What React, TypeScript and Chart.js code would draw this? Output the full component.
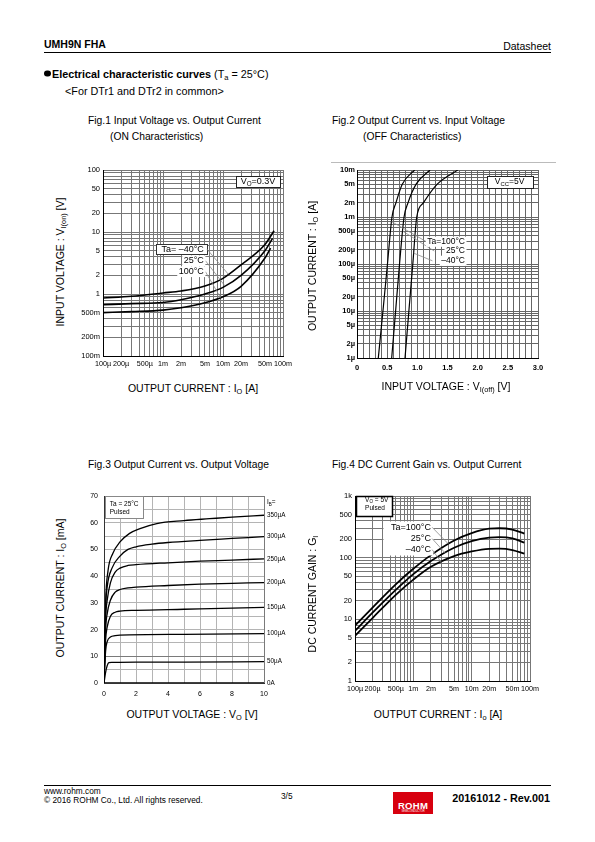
import React, { useEffect, useRef } from 'react';
import { Chart, registerables } from 'chart.js';

Chart.register(...registerables);

const FONT = '"Liberation Sans", Arial, Helvetica, sans-serif';

// ---------------- Fig.1 data (ON characteristics) ----------------
const fig1Io_m40 = [1e-4, 3e-4, 1e-3, 2e-3, 5e-3, 1e-2, 2e-2, 5e-2, 7.1e-2];
const fig1Vi_m40 = [0.86, 0.92, 1.04, 1.12, 1.35, 1.79, 2.95, 6.3, 10.5];
const fig1Io_25 = [1e-4, 3e-4, 1e-3, 2e-3, 5e-3, 1e-2, 2e-2, 5e-2, 6.7e-2];
const fig1Vi_25 = [0.67, 0.7, 0.73, 0.81, 1.0, 1.28, 2.0, 5.0, 7.9];
const fig1Io_100 = [1e-4, 3e-4, 1e-3, 2e-3, 5e-3, 1e-2, 2e-2, 5e-2, 6.2e-2];
const fig1Vi_100 = [0.5, 0.52, 0.55, 0.6, 0.72, 0.9, 1.33, 3.8, 5.5];
const fig1XTicks = [1e-4, 2e-4, 5e-4, 1e-3, 2e-3, 5e-3, 1e-2, 2e-2, 5e-2, 1e-1];
const fig1XLabels = ['100µ', '200µ', '500µ', '1m', '2m', '5m', '10m', '20m', '50m', '100m'];
const fig1YTicks = [0.1, 0.2, 0.5, 1, 2, 5, 10, 20, 50, 100];
const fig1YLabels = ['100m', '200m', '500m', '1', '2', '5', '10', '20', '50', '100'];

// ---------------- Fig.2 data (OFF characteristics) ----------------
const fig2Io = [1e-6, 1e-5, 1e-4, 1e-3, 2e-3, 5e-3, 1e-2];
const fig2Vi_100 = [0.353, 0.43, 0.505, 0.58, 0.645, 0.75, 0.955];
const fig2Vi_25 = [0.575, 0.64, 0.705, 0.78, 0.845, 0.98, 1.21];
const fig2Vi_m40 = [0.796, 0.86, 0.925, 0.99, 1.1, 1.33, 1.67];
const fig2XTicks = [0, 0.5, 1, 1.5, 2, 2.5, 3];
const fig2XLabels = ['0', '0.5', '1.0', '1.5', '2.0', '2.5', '3.0'];
const fig2YTicks = [1e-6, 2e-6, 5e-6, 1e-5, 2e-5, 5e-5, 1e-4, 2e-4, 5e-4, 1e-3, 2e-3, 5e-3, 1e-2];
const fig2YLabels = ['1µ', '2µ', '5µ', '10µ', '20µ', '50µ', '100µ', '200µ', '500µ', '1m', '2m', '5m', '10m'];

// ---------------- Fig.3 data (Io vs Vo) ----------------
const fig3Vo_350 = [0, 0.1, 0.25, 0.55, 1, 1.6, 2.25, 3.3, 5, 6.6, 8, 10];
const fig3Io_350 = [0, 30, 42, 48.5, 52.8, 56, 57.8, 59.7, 60.8, 61.5, 62.1, 62.8];
const fig3Vo_300 = [0, 0.1, 0.2, 0.5, 1, 1.5, 2, 3, 4, 6, 8, 10];
const fig3Io_300 = [0, 28, 36, 43, 47.5, 50, 51, 52, 52.6, 53.4, 54.1, 54.8];
const fig3Vo_250 = [0, 0.1, 0.2, 0.4, 0.7, 1, 1.5, 2, 4, 6, 8, 10];
const fig3Io_250 = [0, 24, 31, 37.5, 41.5, 43, 44, 44.3, 45, 45.6, 46, 46.5];
const fig3Vo_200 = [0, 0.1, 0.2, 0.4, 0.7, 1, 1.5, 2, 4, 6, 8, 10];
const fig3Io_200 = [0, 20, 26, 31, 34, 35, 35.6, 35.9, 36.5, 37, 37.3, 37.6];
const fig3Vo_150 = [0, 0.1, 0.2, 0.4, 0.7, 1, 2, 5, 8, 10];
const fig3Io_150 = [0, 16, 21, 25, 26.5, 26.9, 27.2, 27.6, 28, 28.3];
const fig3Vo_100 = [0, 0.1, 0.2, 0.4, 0.7, 1, 5, 10];
const fig3Io_100 = [0, 12, 15.5, 17.2, 17.7, 17.9, 18.2, 18.5];
const fig3Vo_50 = [0, 0.1, 0.2, 0.3, 0.5, 2, 5, 10];
const fig3Io_50 = [0, 4, 6.5, 7.6, 7.7, 7.8, 7.8, 8];
const fig3Vo_0 = [0, 10];
const fig3Io_0 = [0, 0];
const fig3CurveLabels = ['350µA', '300µA', '250µA', '200µA', '150µA', '100µA', '50µA', '0A'];
const fig3XTicks = [0, 2, 4, 6, 8, 10];
const fig3XLabels = ['0', '2', '4', '6', '8', '10'];
const fig3YTicks = [0, 10, 20, 30, 40, 50, 60, 70];
const fig3YLabels = ['0', '10', '20', '30', '40', '50', '60', '70'];

// ---------------- Fig.4 data (DC current gain) ----------------
const fig4Io = [1e-4, 2e-4, 5e-4, 1e-3, 2e-3, 5e-3, 1e-2, 2e-2, 3e-2, 5e-2, 8e-2];
const fig4G_100 = [7.9, 15.5, 37, 66, 110, 190, 250, 295, 300, 285, 245];
const fig4G_25 = [6.5, 12.8, 30, 54, 88, 145, 185, 212, 215, 205, 175];
const fig4G_m40 = [5.4, 10.5, 25, 44, 71, 106, 126, 139, 140, 133, 116];
const fig4XTicks = fig1XTicks;
const fig4XLabels = fig1XLabels;
const fig4YTicks = [1, 2, 5, 10, 20, 50, 100, 200, 500, 1000];
const fig4YLabels = ['1', '2', '5', '10', '20', '50', '100', '200', '500', '1k'];

// ---------------- helpers ----------------
function logGrid(minExp: number, maxExp: number) {
  const v: number[] = [];
  for (let e = minExp; e < maxExp; e++) for (let k = 1; k < 10; k++) v.push(Number((k * Math.pow(10, e)).toPrecision(6)));
  v.push(Number(Math.pow(10, maxExp).toPrecision(6)));
  return v;
}
function linGrid(min: number, max: number, step: number) {
  const n = Math.round((max - min) / step);
  return Array.from({ length: n + 1 }, (_, i) => Number((min + i * step).toFixed(6)));
}
function labeler(vals: number[], labels: string[]) {
  return (v: number) => {
    const i = vals.findIndex((t) => Math.abs(t - v) <= Math.abs(t) * 1e-6 + 1e-12);
    return i >= 0 ? labels[i] : '';
  };
}
function pts(xs: number[], ys: number[]) {
  return xs.map((x, i) => ({ x, y: ys[i] }));
}

type Part = { t: string; sub?: boolean };

function drawRich(ctx: CanvasRenderingContext2D, parts: Part[], x: number, y: number, size: number, align: string, bold?: boolean, bg?: boolean) {
  const f = (s: number) => `${bold ? 'bold ' : ''}${s}px ${FONT}`;
  const subSize = size * 0.7;
  let w = 0;
  for (const p of parts) {
    ctx.font = f(p.sub ? subSize : size);
    w += ctx.measureText(p.t).width;
  }
  let cx = align === 'left' ? x : align === 'right' ? x - w : x - w / 2;
  if (bg) {
    ctx.fillStyle = '#fff';
    ctx.fillRect(cx - 1.5, y - size * 0.6, w + 3, size * 1.2);
  }
  ctx.fillStyle = '#000';
  ctx.textAlign = 'left';
  ctx.textBaseline = 'middle';
  for (const p of parts) {
    ctx.font = f(p.sub ? subSize : size);
    ctx.fillText(p.t, cx, p.sub ? y + size * 0.28 : y);
    cx += ctx.measureText(p.t).width;
  }
}

function pointOnCurve(points: any[], tx?: number, ty?: number) {
  for (let i = 0; i < points.length - 1; i++) {
    const p = points[i];
    const q = points[i + 1];
    if (tx !== undefined && (tx - p.x) * (tx - q.x) <= 0) {
      const f = (tx - p.x) / (q.x - p.x || 1);
      return { x: tx, y: p.y + f * (q.y - p.y) };
    }
    if (ty !== undefined && (ty - p.y) * (ty - q.y) <= 0) {
      const f = (ty - p.y) / (q.y - p.y || 1);
      return { x: p.x + f * (q.x - p.x), y: ty };
    }
  }
  return null;
}

function annotations(anns: any[]) {
  return {
    id: 'annotations',
    afterDatasetsDraw(chart: any) {
      const ctx = chart.ctx as CanvasRenderingContext2D;
      const xs = chart.scales.x;
      const ys = chart.scales.y;
      const px = (v: number) => xs.getPixelForValue(v);
      const py = (v: number) => ys.getPixelForValue(v);
      ctx.save();
      for (const a of anns) {
        if (a.kind === 'box') {
          const l = Math.round(Math.min(px(a.x1), px(a.x2))) + 0.5;
          const r = Math.round(Math.max(px(a.x1), px(a.x2))) + 0.5;
          const t = Math.round(Math.min(py(a.y1), py(a.y2))) + 0.5;
          const b = Math.round(Math.max(py(a.y1), py(a.y2))) + 0.5;
          if (a.fill) {
            ctx.fillStyle = a.fill;
            ctx.fillRect(l, t, r - l, b - t);
          }
          if (a.stroke) {
            ctx.strokeStyle = a.stroke;
            ctx.lineWidth = a.lw || 1;
            ctx.strokeRect(l, t, r - l, b - t);
          }
        } else if (a.kind === 'leader') {
          const meta = chart.getDatasetMeta(a.ds);
          const target = pointOnCurve(meta.data, a.atX !== undefined ? px(a.atX) : undefined, a.atY !== undefined ? py(a.atY) : undefined);
          if (!target) continue;
          ctx.strokeStyle = a.color || '#8a8a8a';
          ctx.lineWidth = 0.8;
          ctx.beginPath();
          ctx.moveTo(px(a.x), py(a.y));
          ctx.lineTo(target.x, target.y);
          ctx.stroke();
        } else if (a.kind === 'text') {
          drawRich(ctx, a.parts, px(a.x) + (a.dx || 0), py(a.y) + (a.dy || 0), a.size, a.align, a.bold, a.bg);
        }
      }
      ctx.restore();
    },
  };
}

type Box = { left: number; top: number; width: number; height: number };
type Plot = { L: number; T: number; R: number; B: number };

function padFor(c: Box, p: Plot, yW: number, xH: number) {
  return { left: p.L - c.left - yW, top: p.T - c.top, right: c.left + c.width - p.R, bottom: c.top + c.height - p.B - xH };
}

function axis(o: {
  type: string; min: number; max: number; grid: number[]; lab: (v: number) => string; pos: 'x' | 'y';
  size: number; fit: number; bold?: boolean; gridColor: any; pad: number; borderColor?: string;
}) {
  return {
    type: o.type,
    min: o.min,
    max: o.max,
    position: o.pos === 'x' ? 'bottom' : 'left',
    afterBuildTicks: (s: any) => {
      s.ticks = o.grid.map((v) => ({ value: v }));
    },
    afterFit: (s: any) => {
      if (o.pos === 'x') s.height = o.fit;
      else s.width = o.fit;
    },
    ticks: {
      autoSkip: false,
      maxRotation: 0,
      minRotation: 0,
      padding: o.pad,
      color: '#000',
      font: { family: FONT, size: o.size, weight: o.bold ? 'bold' : 'normal' },
      callback: (v: any) => o.lab(Number(v)),
    },
    grid: { color: o.gridColor, lineWidth: 1, drawTicks: false },
    border: { color: o.borderColor || '#000', width: 1 },
  };
}

function baseOptions(padding: any, scales: any) {
  return {
    responsive: false,
    animation: false,
    devicePixelRatio: 1,
    events: [],
    layout: { padding },
    plugins: { legend: { display: false }, tooltip: { enabled: false }, title: { display: false } },
    elements: { point: { radius: 0 } },
    scales,
  };
}

function line(data: any[], width: number) {
  return {
    data,
    borderColor: '#000',
    borderWidth: width,
    pointRadius: 0,
    fill: false,
    cubicInterpolationMode: 'monotone',
  };
}

// ---------------- chart builders ----------------
const fig1Box: Box = { left: 70, top: 160, width: 235, height: 215 };
const fig1Plot: Plot = { L: 103, T: 170, R: 283, B: 356 };
function buildFig1() {
  const anns = [
    { kind: 'box', x1: 1.65e-2, x2: 8.9e-2, y1: 81, y2: 52.6, fill: '#fff', stroke: '#222' },
    { kind: 'text', x: 3.83e-2, y: 65.3, parts: [{ t: 'V' }, { t: 'O', sub: true }, { t: '=0.3V' }], size: 9, align: 'center' },
    { kind: 'box', x1: 7.6e-4, x2: 5.35e-3, y1: 6.33, y2: 4.42, fill: '#fff', stroke: '#333' },
    { kind: 'leader', x: 5.4e-3, y: 5.3, ds: 0, atX: 1.23e-2 },
    { kind: 'leader', x: 5.1e-3, y: 3.44, ds: 1, atX: 1.08e-2 },
    { kind: 'leader', x: 5.1e-3, y: 2.29, ds: 2, atX: 9.1e-3 },
    { kind: 'text', x: 4.8e-3, y: 5.3, parts: [{ t: 'Ta= –40°C' }], size: 9, align: 'right' },
    { kind: 'text', x: 4.8e-3, y: 3.44, parts: [{ t: '25°C' }], size: 9, align: 'right', bg: true },
    { kind: 'text', x: 4.8e-3, y: 2.29, parts: [{ t: '100°C' }], size: 9, align: 'right', bg: true },
  ];
  return {
    type: 'line',
    data: {
      datasets: [
        line(pts(fig1Io_m40, fig1Vi_m40), 1.6),
        line(pts(fig1Io_25, fig1Vi_25), 1.6),
        line(pts(fig1Io_100, fig1Vi_100), 1.6),
      ],
    },
    options: baseOptions(padFor(fig1Box, fig1Plot, 30, 16), {
      x: axis({ type: 'logarithmic', min: 1e-4, max: 0.1, grid: logGrid(-4, -1), lab: labeler(fig1XTicks, fig1XLabels), pos: 'x', size: 7.2, fit: 16, gridColor: '#777', pad: 4 }),
      y: axis({ type: 'logarithmic', min: 0.1, max: 100, grid: logGrid(-1, 2), lab: labeler(fig1YTicks, fig1YLabels), pos: 'y', size: 7.5, fit: 30, gridColor: '#777', pad: 3 }),
    }),
    plugins: [annotations(anns)],
  };
}

const fig2Box: Box = { left: 320, top: 160, width: 240, height: 220 };
const fig2Plot: Plot = { L: 357, T: 170, R: 538, B: 358 };
function buildFig2() {
  const anns = [
    { kind: 'box', x1: 2.15, x2: 2.917, y1: 7.6e-3, y2: 4.08e-3, fill: '#fff', stroke: '#222' },
    { kind: 'text', x: 2.53, y: 5.57e-3, parts: [{ t: 'V' }, { t: 'CC', sub: true }, { t: '=5V' }], size: 8.5, align: 'center' },
    { kind: 'leader', x: 1.15, y: 2.98e-4, ds: 0, atY: 8e-4 },
    { kind: 'leader', x: 1.28, y: 1.89e-4, ds: 1, atY: 5e-4 },
    { kind: 'leader', x: 1.25, y: 1.17e-4, ds: 2, atY: 1.7e-4 },
    { kind: 'text', x: 1.79, y: 2.98e-4, parts: [{ t: 'Ta=100°C' }], size: 8.5, align: 'right', bg: true },
    { kind: 'text', x: 1.79, y: 1.89e-4, parts: [{ t: '25°C' }], size: 8.5, align: 'right', bg: true },
    { kind: 'text', x: 1.79, y: 1.17e-4, parts: [{ t: '–40°C' }], size: 8.5, align: 'right', bg: true },
  ];
  return {
    type: 'line',
    data: {
      datasets: [
        line(pts(fig2Vi_100, fig2Io), 1.2),
        line(pts(fig2Vi_25, fig2Io), 1.2),
        line(pts(fig2Vi_m40, fig2Io), 1.2),
      ],
    },
    options: baseOptions(padFor(fig2Box, fig2Plot, 34, 16), {
      x: axis({ type: 'linear', min: 0, max: 3, grid: linGrid(0, 3, 0.1), lab: labeler(fig2XTicks, fig2XLabels), pos: 'x', size: 7.5, fit: 16, bold: true, gridColor: '#666', pad: 5 }),
      y: axis({ type: 'logarithmic', min: 1e-6, max: 1e-2, grid: logGrid(-6, -2), lab: labeler(fig2YTicks, fig2YLabels), pos: 'y', size: 7.5, fit: 34, bold: true, gridColor: '#666', pad: 2 }),
    }),
    plugins: [annotations(anns)],
  };
}

const fig3Box: Box = { left: 70, top: 485, width: 230, height: 215 };
const fig3Plot: Plot = { L: 104, T: 496, R: 264, B: 683 };
function buildFig3() {
  const series = [
    [fig3Vo_350, fig3Io_350],
    [fig3Vo_300, fig3Io_300],
    [fig3Vo_250, fig3Io_250],
    [fig3Vo_200, fig3Io_200],
    [fig3Vo_150, fig3Io_150],
    [fig3Vo_100, fig3Io_100],
    [fig3Vo_50, fig3Io_50],
    [fig3Vo_0, fig3Io_0],
  ];
  const anns: any[] = [
    { kind: 'box', x1: 0.04, x2: 2.45, y1: 70, y2: 61.6, fill: '#fff', stroke: '#888' },
    { kind: 'text', x: 0.36, y: 67.0, parts: [{ t: 'Ta = 25°C' }], size: 6.5, align: 'left' },
    { kind: 'text', x: 0.36, y: 63.9, parts: [{ t: 'Pulsed' }], size: 6.5, align: 'left' },
    { kind: 'text', x: 10, y: 67.5, dx: 3, parts: [{ t: 'I' }, { t: 'B', sub: true }, { t: '=' }], size: 6.5, align: 'left' },
  ];
  series.forEach((s, i) => {
    const ys = s[1];
    anns.push({ kind: 'text', x: 10, y: ys[ys.length - 1], dx: 3, parts: [{ t: fig3CurveLabels[i] }], size: 6.3, align: 'left' });
  });
  const gridColor = (c: any) => (c.tick && (c.tick.value === 70 || c.tick.value === 10) ? '#7a7a7a' : '#b4b4b4');
  return {
    type: 'line',
    data: { datasets: series.map((s) => line(pts(s[0], s[1]), 1.3)) },
    options: baseOptions(padFor(fig3Box, fig3Plot, 30, 16), {
      x: axis({ type: 'linear', min: 0, max: 10, grid: linGrid(0, 10, 1), lab: labeler(fig3XTicks, fig3XLabels), pos: 'x', size: 7, fit: 16, gridColor, pad: 7, borderColor: '#333' }),
      y: axis({ type: 'linear', min: 0, max: 70, grid: linGrid(0, 70, 5), lab: labeler(fig3YTicks, fig3YLabels), pos: 'y', size: 7, fit: 30, gridColor, pad: 6, borderColor: '#333' }),
    }),
    plugins: [annotations(anns)],
  };
}

const fig4Box: Box = { left: 320, top: 485, width: 240, height: 215 };
const fig4Plot: Plot = { L: 355, T: 496, R: 530, B: 681 };
function buildFig4() {
  const anns = [
    { kind: 'box', x1: 1.06e-4, x2: 4.3e-4, y1: 1000, y2: 468, fill: '#fff', stroke: '#000', lw: 1.5 },
    { kind: 'text', x: 1.49e-4, y: 854, parts: [{ t: 'V' }, { t: 'O', sub: true }, { t: ' = 5V' }], size: 6.5, align: 'left' },
    { kind: 'text', x: 1.49e-4, y: 626, parts: [{ t: 'Pulsed' }], size: 6.5, align: 'left' },
    { kind: 'box', x1: 3.05e-4, x2: 2.15e-3, y1: 390, y2: 112, fill: '#fff' },
    { kind: 'leader', x: 2.1e-3, y: 311, ds: 0, atX: 4e-3 },
    { kind: 'leader', x: 2.1e-3, y: 204, ds: 1, atX: 3.5e-3 },
    { kind: 'leader', x: 2.1e-3, y: 135, ds: 2, atX: 3e-3 },
    { kind: 'text', x: 2.0e-3, y: 311, parts: [{ t: 'Ta=100°C' }], size: 9, align: 'right' },
    { kind: 'text', x: 2.0e-3, y: 204, parts: [{ t: '25°C' }], size: 9, align: 'right' },
    { kind: 'text', x: 2.0e-3, y: 135, parts: [{ t: '–40°C' }], size: 9, align: 'right' },
  ];
  return {
    type: 'line',
    data: {
      datasets: [
        line(pts(fig4Io, fig4G_100), 1.8),
        line(pts(fig4Io, fig4G_25), 1.8),
        line(pts(fig4Io, fig4G_m40), 1.8),
      ],
    },
    options: baseOptions(padFor(fig4Box, fig4Plot, 31, 16), {
      x: axis({ type: 'logarithmic', min: 1e-4, max: 0.1, grid: logGrid(-4, -1), lab: labeler(fig4XTicks, fig4XLabels), pos: 'x', size: 7.2, fit: 16, gridColor: '#777', pad: 4 }),
      y: axis({ type: 'logarithmic', min: 1, max: 1000, grid: logGrid(0, 3), lab: labeler(fig4YTicks, fig4YLabels), pos: 'y', size: 7.5, fit: 31, gridColor: '#777', pad: 3 }),
    }),
    plugins: [annotations(anns)],
  };
}

// ---------------- components ----------------
function ChartCanvas({ box, build }: { box: Box; build: () => any }) {
  const ref = useRef<HTMLCanvasElement>(null);
  useEffect(() => {
    const chart = new Chart(ref.current as HTMLCanvasElement, build() as any);
    return () => chart.destroy();
  }, []);
  return (
    <canvas
      ref={ref}
      width={box.width}
      height={box.height}
      style={{ position: 'absolute', left: box.left, top: box.top, width: box.width, height: box.height }}
    />
  );
}

function Txt(props: { x: number; y: number; size: number; bold?: boolean; align?: 'left' | 'right' | 'center'; rotate?: boolean; children: any }) {
  const { x, y, size, bold, align = 'left', rotate, children } = props;
  const tx = rotate ? '-50%' : align === 'left' ? '0' : align === 'right' ? '-100%' : '-50%';
  return (
    <div
      style={{
        position: 'absolute',
        left: x,
        top: y,
        fontSize: size,
        fontWeight: bold ? 700 : 400,
        lineHeight: 1,
        whiteSpace: 'nowrap',
        transform: `translate(${tx},-50%)${rotate ? ' rotate(-90deg)' : ''}`,
      }}
    >
      {children}
    </div>
  );
}

const subStyle: any = { fontSize: '70%', verticalAlign: '-0.3em', lineHeight: 0 };
const S = ({ children }: { children: any }) => <span style={subStyle}>{children}</span>;

export default function App() {
  return (
    <div style={{ position: 'absolute', left: 0, top: 0, width: 595, height: 842, background: '#fff', fontFamily: FONT, color: '#000', overflow: 'hidden' }}>
      {/* header */}
      <Txt x={44} y={44} size={10.5} bold>UMH9N FHA</Txt>
      <Txt x={551} y={46} size={10.5} align="right">Datasheet</Txt>
      <div style={{ position: 'absolute', left: 44, top: 52, width: 507, height: 1, background: '#000' }} />
      <Txt x={44} y={74} size={10.8}>
        <span style={{ display: 'inline-block', width: 6.5, height: 6.5, borderRadius: '50%', background: '#000', marginRight: 1.5, verticalAlign: '0.05em' }} />
        <b>Electrical characteristic curves</b> (T<S>a</S> = 25°C)
      </Txt>
      <Txt x={65} y={91} size={10.8}>{'<For DTr1 and DTr2 in common>'}</Txt>

      {/* titles */}
      <Txt x={88} y={121} size={10.3}>Fig.1 Input Voltage vs. Output Current</Txt>
      <Txt x={110} y={137} size={10.3}>(ON Characteristics)</Txt>
      <Txt x={332} y={121} size={10.3}>Fig.2 Output Current vs. Input Voltage</Txt>
      <Txt x={363} y={137} size={10.3}>(OFF Characteristics)</Txt>
      <Txt x={88} y={465} size={10.3}>Fig.3 Output Current vs. Output Voltage</Txt>
      <Txt x={332} y={465} size={10.3}>Fig.4 DC Current Gain vs. Output Current</Txt>

      <div style={{ position: 'absolute', left: 331, top: 162, width: 225, height: 1, background: '#bbb' }} />

      {/* charts */}
      <ChartCanvas box={fig1Box} build={buildFig1} />
      <ChartCanvas box={fig2Box} build={buildFig2} />
      <ChartCanvas box={fig3Box} build={buildFig3} />
      <ChartCanvas box={fig4Box} build={buildFig4} />

      {/* axis titles */}
      <Txt x={60} y={262} size={10.5} rotate>INPUT VOLTAGE : V<S>I(on)</S> [V]</Txt>
      <Txt x={193} y={388} size={10.5} align="center">OUTPUT CURRENT : I<S>O</S> [A]</Txt>
      <Txt x={312} y={266} size={10.5} rotate>OUTPUT CURRENT : I<S>O</S> [A]</Txt>
      <Txt x={446} y={386} size={10.5} align="center">INPUT VOLTAGE : V<S>I(off)</S> [V]</Txt>
      <Txt x={60} y={588} size={10.5} rotate>OUTPUT CURRENT : I<S>O</S> [mA]</Txt>
      <Txt x={192} y={714} size={10.5} align="center">OUTPUT VOLTAGE : V<S>O</S> [V]</Txt>
      <Txt x={312} y={594} size={10.5} rotate>DC CURRENT GAIN : G<S>I</S></Txt>
      <Txt x={438} y={714} size={10.5} align="center">OUTPUT CURRENT : I<S>o</S> [A]</Txt>

      {/* footer */}
      <div style={{ position: 'absolute', left: 44, top: 785, width: 507, height: 1, background: '#000' }} />
      <Txt x={44} y={791} size={8.3}>www.rohm.com</Txt>
      <Txt x={44} y={800} size={8.3}>© 2016 ROHM Co., Ltd. All rights reserved.</Txt>
      <Txt x={281} y={796} size={8.3}>3/5</Txt>
      <div style={{ position: 'absolute', left: 393, top: 792, width: 40, height: 22, background: '#d7000f' }}>
        <div style={{ position: 'absolute', left: 0, width: 40, top: 9, textAlign: 'center', color: '#fff', fontWeight: 700, fontSize: 9.5, lineHeight: 1, letterSpacing: 0.3 }}>ROHM</div>
        <div style={{ position: 'absolute', left: 0, width: 40, top: 18.5, textAlign: 'center', color: '#fff', fontSize: 2.6, lineHeight: 1 }}>SEMICONDUCTOR</div>
      </div>
      <Txt x={550} y={798} size={10.8} bold align="right">20161012 - Rev.001</Txt>
    </div>
  );
}
